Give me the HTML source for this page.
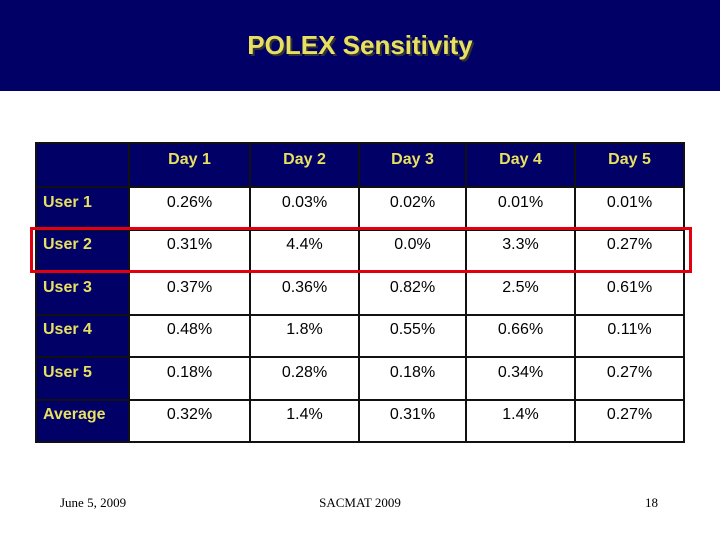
<!DOCTYPE html>
<html><head><meta charset="utf-8"><style>
body{margin:0;width:720px;height:540px;background:#fff;position:relative;overflow:hidden;font-family:"Liberation Sans",sans-serif}
#hdr{position:absolute;left:0;top:0;width:720px;height:91px;background:#000066}
#title{position:absolute;left:0;width:720px;top:30px;text-align:center;font-size:26px;font-weight:bold;color:#e8e060;text-shadow:2px 2px 0 #333}
table{position:absolute;left:35px;top:142px;border-collapse:collapse;border:2px solid #111}
td{border:2px solid #111;height:29.5px;padding:0 0 11px 0;text-align:center;font-size:16px;color:#000;background:#fff}
td.h{background:#000066;color:#e8e060;font-weight:bold}
td.r{text-align:left;padding-left:6px}
tr:first-child td{height:32px;padding-bottom:10px}
#red{position:absolute;left:30px;top:227px;width:656px;height:40px;border:3px solid #e00010}
.ft{position:absolute;top:495px;font-family:"Liberation Serif",serif;font-size:13px;color:#000}
</style></head><body>
<div id="hdr"></div>
<div id="title">POLEX Sensitivity</div>
<table>
<colgroup><col style="width:93px"><col style="width:121px"><col style="width:109px"><col style="width:107px"><col style="width:109px"><col style="width:109px"></colgroup>
<tr><td class="h"></td><td class="h">Day 1</td><td class="h">Day 2</td><td class="h">Day 3</td><td class="h">Day 4</td><td class="h">Day 5</td></tr>
<tr><td class="h r">User 1</td><td>0.26%</td><td>0.03%</td><td>0.02%</td><td>0.01%</td><td>0.01%</td></tr>
<tr><td class="h r">User 2</td><td>0.31%</td><td>4.4%</td><td>0.0%</td><td>3.3%</td><td>0.27%</td></tr>
<tr><td class="h r">User 3</td><td>0.37%</td><td>0.36%</td><td>0.82%</td><td>2.5%</td><td>0.61%</td></tr>
<tr><td class="h r">User 4</td><td>0.48%</td><td>1.8%</td><td>0.55%</td><td>0.66%</td><td>0.11%</td></tr>
<tr><td class="h r">User 5</td><td>0.18%</td><td>0.28%</td><td>0.18%</td><td>0.34%</td><td>0.27%</td></tr>
<tr><td class="h r">Average</td><td>0.32%</td><td>1.4%</td><td>0.31%</td><td>1.4%</td><td>0.27%</td></tr>
</table>
<div id="red"></div>
<div class="ft" style="left:60px">June 5, 2009</div>
<div class="ft" style="left:0;width:720px;text-align:center">SACMAT 2009</div>
<div class="ft" style="left:645px">18</div>
</body></html>
